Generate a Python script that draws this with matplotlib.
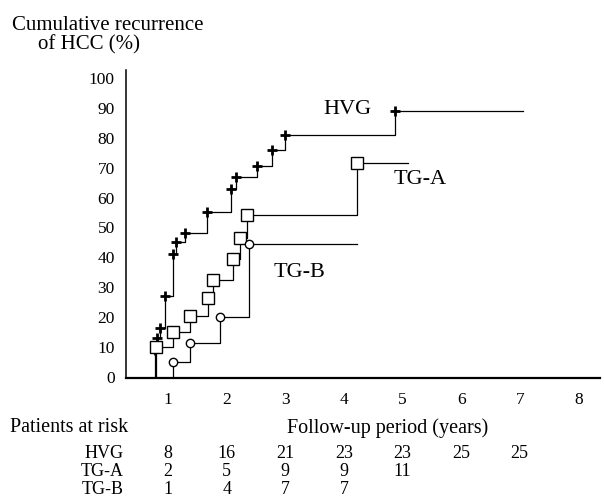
import matplotlib
matplotlib.use('Agg')
import matplotlib.pyplot as plt
import matplotlib.transforms as mtransforms

plt.rcParams['font.family'] = ['Liberation Serif', 'DejaVu Serif']

W, H = 604, 497

# step times (years) and cumulative recurrence (%) reached at each step
hvg_t = [0.77, 0.82, 0.87, 0.95, 1.08, 1.13, 1.29, 1.67, 2.08, 2.16, 2.52, 2.78, 3.00, 4.87]
hvg_y = [9, 13, 16.5, 27, 41, 45, 48, 55, 63, 67, 70.5, 76, 81, 89]
hvg_end = 7.06

tga_t = [0.79, 1.08, 1.37, 1.68, 1.77, 2.11, 2.23, 2.35, 4.23]
tga_y = [10, 15, 20.5, 26.5, 32.5, 39.5, 46.5, 54, 71.5]
tga_end = 5.10

tgb_t = [1.08, 1.37, 1.89, 2.38]
tgb_y = [5, 11.5, 20, 44.5]
tgb_end = 4.23

years = [1, 2, 3, 4, 5, 6, 7, 8]
yticks = list(range(0, 101, 10))
risk_groups = ['HVG', 'TG-A', 'TG-B']
hvg_risk = [8, 16, 21, 23, 23, 25, 25]
tga_risk = [2, 5, 9, 9, 11]
tgb_risk = [1, 4, 7, 7]


def px(x, y):
    # pixel position (from top-left) -> figure fraction
    return x / W, 1 - y / H


def curve(ax, t, y, end, marker, ms, mew):
    xs = [t[0]] + t + [end]
    ys = [0] + y + [y[-1]]
    ax.step(xs, ys, where='post', color='black', lw=0.9, zorder=2)
    ax.plot(t, y, ls='none', marker=marker, ms=ms, mew=mew, mec='black',
            mfc='white' if marker in ('s', 'o') else 'black', zorder=3, clip_on=False)


fig = plt.figure(figsize=(W / 100, H / 100), dpi=100)
l, b = px(126, 378)
r, t = px(600, 70)
ax = fig.add_axes([l, b, r - l, t - b])

curve(ax, hvg_t, hvg_y, hvg_end, '+', 6.5, 2.0)
curve(ax, tga_t, tga_y, tga_end, 's', 8, 1.0)
curve(ax, tgb_t, tgb_y, tgb_end, 'o', 6, 1.0)

ax.text(4.06, 89.4, 'HVG', fontsize=16, ha='center', va='center')
ax.text(5.30, 65.9, 'TG-A', fontsize=16, ha='center', va='center')
ax.text(3.25, 34.8, 'TG-B', fontsize=16, ha='center', va='center')

ax.set_xlim(0.283, 8.37)
ax.set_ylim(-0.3, 102.6)
ax.set_xticks(years)
ax.set_xticklabels([str(v) for v in years])
ax.set_yticks(yticks)
ax.set_yticklabels([str(v) for v in yticks])
ax.tick_params(axis='both', length=0, labelsize=12.5)
ax.tick_params(axis='y', pad=8)
ax.tick_params(axis='x', pad=10)
for s in ('top', 'right'):
    ax.spines[s].set_visible(False)
ax.spines['left'].set_linewidth(1.1)
ax.spines['bottom'].set_linewidth(1.6)

x0, y0 = px(12, 25)
fig.text(x0, y0, 'Cumulative recurrence', fontsize=15, ha='left', va='center')
x0, y0 = px(38, 45)
fig.text(x0, y0, 'of HCC (%)', fontsize=15, ha='left', va='center')

x0, y0 = px(10, 428)
fig.text(x0, y0, 'Patients at risk', fontsize=14.5, ha='left', va='center')
x0, y0 = px(388, 428)
fig.text(x0, y0, 'Follow-up period (years)', fontsize=14.5, ha='center', va='center')

blend = mtransforms.blended_transform_factory(ax.transData, fig.transFigure)
rows_y = [453, 472, 490]
for name, vals, ry in zip(risk_groups, [hvg_risk, tga_risk, tgb_risk], rows_y):
    x0, y0 = px(124, ry)
    fig.text(x0, y0, name, fontsize=13, ha='right', va='center')
    for yr, v in zip(years, vals):
        ax.text(yr, y0, str(v), fontsize=13, ha='center', va='center', transform=blend)

fig.savefig('out.png', dpi=100)
